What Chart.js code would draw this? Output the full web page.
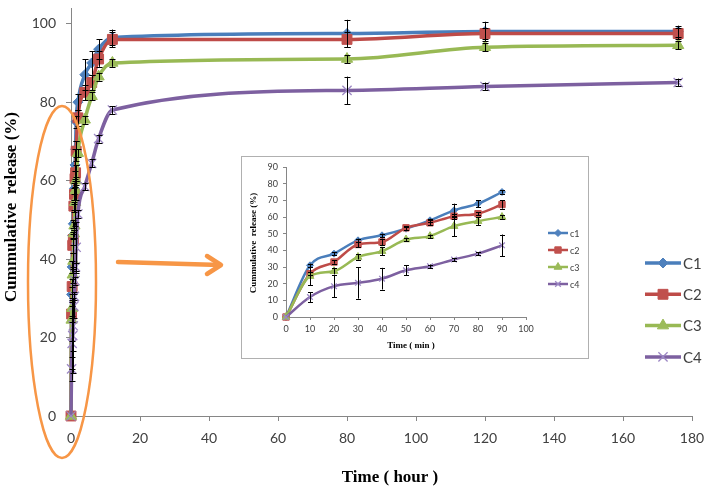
<!DOCTYPE html>
<html><head><meta charset="utf-8">
<script src="https://cdn.jsdelivr.net/npm/chart.js@4.4.0/dist/chart.umd.min.js"></script>
<style>
html,body{margin:0;padding:0;background:#fff;}
#wrap{position:relative;width:708px;height:489px;overflow:hidden;}
#main{position:absolute;left:0;top:0;}
#insetBox{position:absolute;left:241px;top:156px;width:346px;height:201px;border:1px solid #b0b0b0;background:#fff;}
#inset{position:absolute;left:0;top:0;}
</style></head><body>
<div id="wrap">
<canvas id="main" width="708" height="489"></canvas>
<div id="insetBox"><canvas id="inset" width="346" height="201"></canvas></div>
</div>
<script>
// ---------- main chart data (time in hours) ----------
const seriesNames = ['C1','C2','C3','C4'];
const hours = [0, 0.17, 0.33, 0.5, 0.67, 0.83, 1, 1.17, 1.33, 1.5, 2, 4, 6, 8, 12, 80, 120, 176];
const c1Main = [0, 31, 38, 46, 49, 53, 58, 64, 68, 75, 80, 87, 90, 93.5, 96.5, 97.5, 98, 98];
const c2Main = [0, 26, 33, 43.5, 45, 53.5, 56.5, 60.5, 62, 67.5, 76, 82.5, 85, 91, 96, 96, 97.5, 97.5];
const c3Main = [0, 24.5, 27.5, 36, 39.5, 46.5, 48.5, 54.5, 57.5, 60, 67, 75.5, 81.5, 86.5, 90, 91, 94, 94.5];
const c4Main = [0, 12, 18.5, 20.5, 23, 28, 30.5, 34.5, 38, 43, 51.5, 58.5, 64.4, 70.7, 78, 83, 84, 85];
const c1MainErr = [0, 2, 1.5, 1, 1, 1, 1.5, 4, 2, 1.5, 2, 4, 3, 2.5, 2, 3.5, 2.5, 1.5];
const c2MainErr = [0, 2, 2, 2, 1.5, 1, 1.5, 2, 2, 2.5, 2, 2, 2, 2, 2, 2, 1.5, 1.5];
const c3MainErr = [0, 5.5, 2, 2, 2, 1, 1, 6, 2.5, 1, 1, 1, 1, 1, 1, 1, 1, 1];
const c4MainErr = [0, 3, 6.5, 9.5, 6.5, 3, 1, 1, 1, 6.5, 1, 1, 1, 1, 1, 3.5, 1, 1];
const xTicksMain = [0, 20, 40, 60, 80, 100, 120, 140, 160, 180];
const yTicksMain = [0, 20, 40, 60, 80, 100];

// ---------- inset data (time in minutes) ----------
const minutes = [0, 10, 20, 30, 40, 50, 60, 70, 80, 90];
const c1In = [0, 31, 38, 46, 49, 53, 58, 64, 68, 75];
const c2In = [0, 26, 33, 43.5, 45, 53.5, 56.5, 60.5, 62, 67.5];
const c3In = [0, 24.5, 27.5, 36, 39.5, 46.5, 48.5, 54.5, 57.5, 60];
const c4In = [0, 12, 18.5, 20.5, 23, 28, 30.5, 34.5, 38, 43];
const c1InErr = [0, 1, 1, 1, 1, 1, 1, 4, 2, 1];
const c2InErr = [0, 1, 1, 1.5, 2, 1, 1.5, 1.5, 1, 2.5];
const c3InErr = [0, 5.5, 2, 1.5, 2.5, 1, 1, 6, 2.5, 1];
const c4InErr = [0, 3, 6.5, 9.5, 6.5, 3, 1, 1, 1, 6.5];
const insetNames = ['c1','c2','c3','c4'];

const lineColors = ['#4A7EBB', '#BE4B48', '#98B954', '#7D60A0'];
const markColors = ['#4F81BD', '#C0504D', '#9BBB59', '#9C87C4'];
const styles = ['rectRot', 'rect', 'triangle', 'crossRot'];

function pts(xs, ys){ return xs.map((x,i)=>({x:x, y:ys[i]})); }

const errBars = {
  id:'errBars',
  afterDatasetsDraw(chart, args, opts){
    const ctx = chart.ctx, ys = chart.scales.y, cap = opts.cap || 3;
    chart.data.datasets.forEach((ds, di) => {
      if (!ds.errs) return;
      const meta = chart.getDatasetMeta(di);
      ctx.save(); ctx.strokeStyle = '#000'; ctx.lineWidth = 1;
      meta.data.forEach((pt, i) => {
        const e = ds.errs[i]; if (!e) return;
        const v = ds.data[i].y;
        const y1 = ys.getPixelForValue(v + e), y2 = ys.getPixelForValue(v - e);
        const x = Math.round(pt.x) + 0.5;
        ctx.beginPath();
        ctx.moveTo(x, y1); ctx.lineTo(x, y2);
        ctx.moveTo(x - cap, Math.round(y1)+0.5); ctx.lineTo(x + cap, Math.round(y1)+0.5);
        ctx.moveTo(x - cap, Math.round(y2)+0.5); ctx.lineTo(x + cap, Math.round(y2)+0.5);
        ctx.stroke();
      });
      ctx.restore();
    });
  }
};

const decor = {
  id:'decor',
  afterDraw(chart, args, o){
    const ctx = chart.ctx;
    ctx.save();
    o.legend.names.forEach((n, i) => {
      const y = o.legend.y0 + i * o.legend.dy;
      ctx.strokeStyle = lineColors[i]; ctx.lineWidth = o.legend.lw;
      ctx.beginPath(); ctx.moveTo(o.legend.x0, y); ctx.lineTo(o.legend.x1, y); ctx.stroke();
      const ds = chart.data.datasets[i];
      ctx.fillStyle = markColors[i]; ctx.strokeStyle = markColors[i]; ctx.lineWidth = ds.pointBorderWidth;
      Chart.helpers.drawPoint(ctx, {pointStyle: styles[i], radius: ds.pointRadius, borderWidth: ds.pointBorderWidth, rotation: 0}, (o.legend.x0 + o.legend.x1)/2, y);
      ctx.fillStyle = '#404040'; ctx.font = o.legend.font; ctx.textAlign = 'left'; ctx.textBaseline = 'middle';
      ctx.fillText(n, o.legend.x1 + 2, y + 1);
    });
    ctx.fillStyle = '#000'; ctx.font = o.titleFont; ctx.textAlign = 'center'; ctx.textBaseline = 'middle';
    ctx.fillText(o.xTitle.text, o.xTitle.x, o.xTitle.y);
    ctx.translate(o.yTitle.x, o.yTitle.y); ctx.rotate(-Math.PI/2);
    ctx.fillText(o.yTitle.text, 0, 0);
    ctx.restore();
    if (o.annot) {
      ctx.save();
      ctx.strokeStyle = '#F79646'; ctx.lineWidth = 2.5;
      ctx.beginPath(); ctx.ellipse(62, 282, 34, 176, 0, 0, Math.PI*2); ctx.stroke();
      ctx.lineWidth = 4.5; ctx.lineCap = 'round'; ctx.lineJoin = 'round';
      ctx.beginPath(); ctx.moveTo(118, 262); ctx.lineTo(220, 265); ctx.stroke();
      ctx.beginPath(); ctx.moveTo(207, 256); ctx.lineTo(221, 265); ctx.lineTo(207, 274); ctx.stroke();
      ctx.restore();
    }
  }
};

function makeDatasets(xs, ys, errs, lw, radii){
  return ys.map((arr, i) => ({
    label: seriesNames[i],
    data: pts(xs, arr),
    errs: errs[i],
    showLine: true,
    clip: false,
    borderColor: lineColors[i],
    borderWidth: lw,
    backgroundColor: markColors[i],
    pointBackgroundColor: markColors[i],
    pointBorderColor: markColors[i],
    pointBorderWidth: i === 3 ? 1.3 : 1,
    pointStyle: styles[i],
    pointRadius: radii[i],
    cubicInterpolationMode: 'monotone',
    order: 4 - i
  }));
}

const gridOpts = {display:true, drawOnChartArea:false, drawTicks:true, tickLength:5, color:'#868686'};
function fixX(h){ return function(s){ s.height = h; s.paddingLeft = 0; s.paddingRight = 0; }; }
function fixY(w){ return function(s){ s.width = w; s.paddingTop = 0; s.paddingBottom = 0; }; }

new Chart(document.getElementById('main'), {
  type: 'scatter',
  data: { datasets: makeDatasets(hours, [c1Main, c2Main, c3Main, c4Main], [c1MainErr, c2MainErr, c3MainErr, c4MainErr], 3.5, [5, 7, 6.5, 6.5]) },
  options: {
    responsive:false, animation:false, devicePixelRatio:1,
    layout:{padding:{top:5, right:16, left:0, bottom:0}},
    plugins:{legend:{display:false}, tooltip:{enabled:false},
      errBars:{cap:3},
      decor:{
        annot:true,
        legend:{names:seriesNames, x0:645, x1:681, y0:263, dy:31.3, lw:3.5, font:'15px Lato'},
        titleFont:'bold 17px "Liberation Serif"',
        xTitle:{text:'Time ( hour )', x:390, y:478},
        yTitle:{text:'Cummulative  release (%)', x:12, y:207}
      }},
    scales:{
      x:{type:'linear', min:0, max:180,
        afterBuildTicks(s){ s.ticks = xTicksMain.map(v=>({value:v})); },
        afterFit: fixX(489 - 416),
        ticks:{font:{family:'Lato', size:14}, color:'#404040', padding:9},
        grid:gridOpts, border:{color:'#868686', width:1}},
      y:{type:'linear', min:0, max:104,
        afterBuildTicks(s){ s.ticks = yTicksMain.map(v=>({value:v})); },
        afterFit: fixY(71),
        ticks:{font:{family:'Lato', size:14}, color:'#404040', padding:10},
        grid:gridOpts, border:{color:'#868686', width:1}}
    }
  },
  plugins:[errBars, decor]
});

new Chart(document.getElementById('inset'), {
  type: 'scatter',
  data: { datasets: makeDatasets(minutes, [c1In, c2In, c3In, c4In], [c1InErr, c2InErr, c3InErr, c4InErr], 2.5, [3.5, 4.5, 4.5, 4]) },
  options: {
    responsive:false, animation:false, devicePixelRatio:1,
    layout:{padding:{top:10, right:62, left:0, bottom:0}},
    plugins:{legend:{display:false}, tooltip:{enabled:false},
      errBars:{cap:2.5},
      decor:{
        annot:false,
        legend:{names:insetNames, x0:306, x1:326, y0:76, dy:17, lw:2.5, font:'9px Lato'},
        titleFont:'bold 9px "Liberation Serif"',
        xTitle:{text:'Time ( min )', x:169, y:189},
        yTitle:{text:'Cummulative  release (%)', x:12, y:86}
      }},
    scales:{
      x:{type:'linear', min:0, max:100,
        ticks:{stepSize:10, font:{family:'Lato', size:9}, color:'#404040', padding:4},
        afterFit: fixX(41),
        grid:{...gridOpts, tickLength:3}, border:{color:'#868686', width:1}},
      y:{type:'linear', min:0, max:90,
        ticks:{stepSize:10, font:{family:'Lato', size:9}, color:'#404040', padding:5},
        afterFit: fixY(44),
        grid:{...gridOpts, tickLength:3}, border:{color:'#868686', width:1}}
    }
  },
  plugins:[errBars, decor]
});
</script>
</body></html>
